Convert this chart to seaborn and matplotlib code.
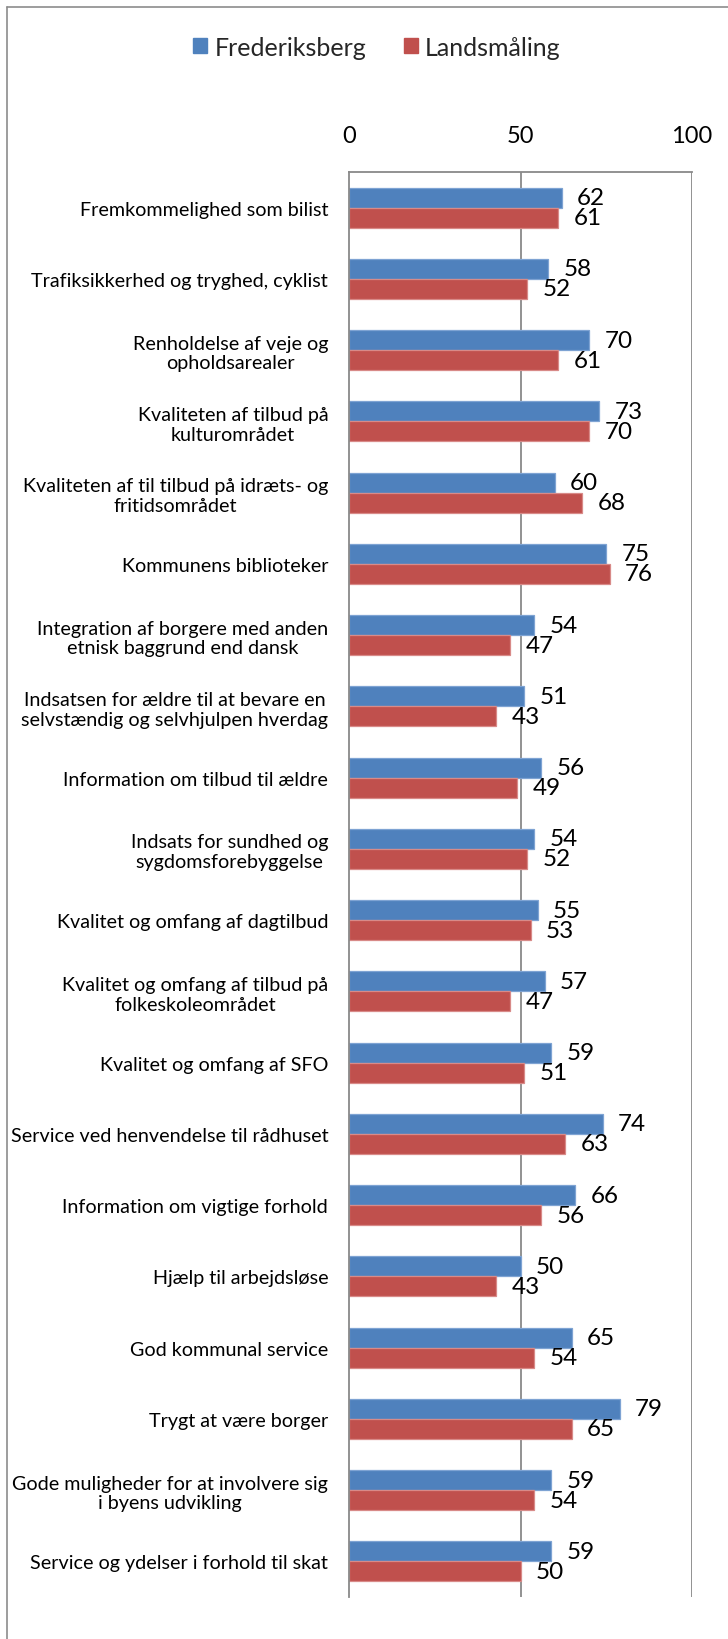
import matplotlib
matplotlib.use("Agg")
import matplotlib.pyplot as plt
import seaborn as sns
import pandas as pd
from matplotlib.lines import Line2D

categories = [
    "Fremkommelighed som bilist",
    "Trafiksikkerhed og tryghed, cyklist",
    "Renholdelse af veje og\nopholdsarealer",
    "Kvaliteten af tilbud på\nkulturområdet",
    "Kvaliteten af til tilbud på idræts- og\nfritidsområdet",
    "Kommunens biblioteker",
    "Integration af borgere med anden\netnisk baggrund end dansk",
    "Indsatsen for ældre til at bevare en\nselvstændig og selvhjulpen hverdag",
    "Information om tilbud til ældre",
    "Indsats for sundhed og\nsygdomsforebyggelse",
    "Kvalitet og omfang af dagtilbud",
    "Kvalitet og omfang af tilbud på\nfolkeskoleområdet",
    "Kvalitet og omfang af SFO",
    "Service ved henvendelse til rådhuset",
    "Information om vigtige forhold",
    "Hjælp til arbejdsløse",
    "God kommunal service",
    "Trygt at være borger",
    "Gode muligheder for at involvere sig\ni byens udvikling",
    "Service og ydelser i forhold til skat",
]
series_names = ["Frederiksberg", "Landsmåling"]
frederiksberg = [62, 58, 70, 73, 60, 75, 54, 51, 56, 54, 55, 57, 59, 74, 66, 50, 65, 79, 59, 59]
landsmaaling = [61, 52, 61, 70, 68, 76, 47, 43, 49, 52, 53, 47, 51, 63, 56, 43, 54, 65, 54, 50]
x_ticks = [0, 50, 100]

colors = ["#4F81BD", "#C0504D"]
edges = ["#7EA3D3", "#D88A88"]

df = pd.DataFrame({
    "kategori": categories * 2,
    "værdi": frederiksberg + landsmaaling,
    "serie": [series_names[0]] * len(categories) + [series_names[1]] * len(categories),
})

sns.set_theme(style="white")
plt.rcParams["font.family"] = ["Lato", "DejaVu Sans"]

fig = plt.figure(figsize=(7.28, 16.4), dpi=100)
W, H = 728, 1640
ax = fig.add_axes([349 / W, (H - 1598) / H, (692 - 349) / W, (1598 - 173) / H])

sns.barplot(data=df, y="kategori", x="værdi", hue="serie", orient="h",
            palette=colors, saturation=1, width=0.56, ax=ax, legend=False, linewidth=0.9)

for cont, ec in zip(ax.containers, edges):
    for p in cont:
        p.set_edgecolor(ec)
    ax.bar_label(cont, padding=11, fontsize=17.5, color="black")

ax.set_xlim(0, 100)
ax.set_xticks(x_ticks)
ax.xaxis.tick_top()
ax.tick_params(axis="x", length=0, pad=19, labelsize=17, colors="black")
ax.tick_params(axis="y", length=0, pad=15, labelsize=14.2, colors="black")
for t in ax.get_yticklabels():
    t.set_multialignment("center")
ax.set_xlabel("")
ax.set_ylabel("")

grid_c = "#898989"
for v in x_ticks[1:]:
    ax.axvline(v, color=grid_c, lw=1.3, zorder=0)
ax.spines["left"].set_color(grid_c)
ax.spines["left"].set_linewidth(1.3)
ax.spines["top"].set_color(grid_c)
ax.spines["top"].set_linewidth(1.3)
ax.spines["right"].set_visible(False)
ax.spines["bottom"].set_visible(False)

handles = [plt.Rectangle((0, 0), 1, 1, color=c) for c in colors]
fig.legend(handles, series_names, loc="center", bbox_to_anchor=(377 / W, 1 - 48 / H),
           ncol=2, frameon=False, fontsize=18, handlelength=0.55, handleheight=0.55,
           handletextpad=0.3, columnspacing=1.5)

# outer chart border (top and left visible)
fig.add_artist(Line2D([6.5 / W, 6.5 / W], [0, 1 - 8 / H], transform=fig.transFigure,
                      color="#8C8C8C", lw=1.2))
fig.add_artist(Line2D([6.5 / W, 1], [1 - 8 / H, 1 - 8 / H], transform=fig.transFigure,
                      color="#8C8C8C", lw=1.2))

fig.savefig("out.png", dpi=100, facecolor="white")
